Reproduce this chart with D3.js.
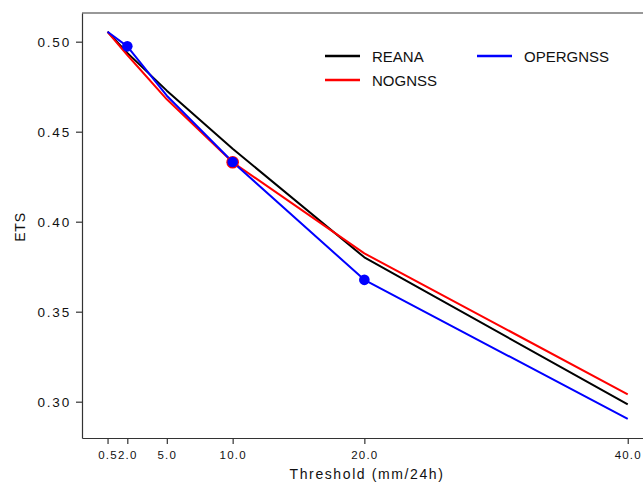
<!DOCTYPE html>
<html>
<head>
<meta charset="utf-8">
<script src="https://cdn.jsdelivr.net/npm/d3@7"></script>
<style>
  html, body { margin: 0; padding: 0; background: #fff; }
  svg { display: block; }
  text { font-family: "Liberation Sans", Arial, sans-serif; fill: #111; }
</style>
</head>
<body>
<svg id="chart" width="643" height="485"></svg>
<script>
// ---- data ----
const thresholds = [0.5, 2.0, 5.0, 10.0, 20.0, 40.0];
const tickLabels = ["0.5", "2.0", "5.0", "10.0", "20.0", "40.0"];
const yTicks = [0.30, 0.35, 0.40, 0.45, 0.50];
const reana    = [0.5055, 0.4938, 0.4728, 0.4405, 0.3802, 0.2985];
const nognss   = [0.5055, 0.4926, 0.4680, 0.4330, 0.3824, 0.3041];
const opergnss = [0.5055, 0.4974, 0.4700, 0.4332, 0.3677, 0.2904];
const reanaMarks    = [];
const nognssMarks   = [10.0];
const opergnssMarks = [2.0, 10.0, 20.0];
const seriesNames  = ["REANA", "NOGNSS", "OPERGNSS"];
const seriesColors = ["#000000", "#ff0000", "#0000ff"];

const series = [
  {name: seriesNames[0], color: seriesColors[0], values: reana,    marks: reanaMarks,    r: 5},
  {name: seriesNames[1], color: seriesColors[1], values: nognss,   marks: nognssMarks,   r: 6.3},
  {name: seriesNames[2], color: seriesColors[2], values: opergnss, marks: opergnssMarks, r: 5.3}
];

// ---- layout ----
const svg = d3.select("#chart");
const pLeft = 82, pTop = 13, pBottom = 438, pRight = 660;
const x = d3.scaleLinear().domain([-1.44, 42.45]).range([pLeft, pRight]);
const y = d3.scaleLinear().domain([0.27983, 0.51594]).range([pBottom, pTop]);

// frame (top + right spine)
svg.append("line").attr("x1", pLeft).attr("x2", pRight).attr("y1", pTop).attr("y2", pTop)
   .attr("stroke", "#333").attr("stroke-width", 1.2);
svg.append("line").attr("x1", pRight).attr("x2", pRight).attr("y1", pTop).attr("y2", pBottom)
   .attr("stroke", "#333").attr("stroke-width", 1.2);

// axes
const xAxis = d3.axisBottom(x).tickValues(thresholds)
  .tickFormat((d, i) => tickLabels[i]).tickSize(6).tickSizeOuter(0);
const gx = svg.append("g").attr("transform", `translate(0,${pBottom})`).call(xAxis);
gx.select(".domain").attr("stroke", "#333").attr("stroke-width", 1.2);
gx.selectAll(".tick line").attr("stroke", "#333").attr("stroke-width", 1.2);
gx.selectAll(".tick text").attr("font-size", 11.5).attr("letter-spacing", "1.2px")
  .attr("fill", "#111").attr("dy", "1.05em")
  .attr("font-family", "'Liberation Sans', Arial, sans-serif");

const yAxis = d3.axisLeft(y).tickValues(yTicks).tickFormat(d3.format(".2f"))
  .tickSize(6).tickSizeOuter(0);
const gy = svg.append("g").attr("transform", `translate(${pLeft},0)`).call(yAxis);
gy.select(".domain").attr("stroke", "#333").attr("stroke-width", 1.2);
gy.selectAll(".tick line").attr("stroke", "#333").attr("stroke-width", 1.2);
gy.selectAll(".tick text").attr("font-size", 13.5).attr("letter-spacing", "1.8px")
  .attr("fill", "#111").attr("x", -11)
  .attr("font-family", "'Liberation Sans', Arial, sans-serif");

// axis titles
svg.append("text").attr("x", 367).attr("y", 479).attr("text-anchor", "middle")
  .attr("font-size", 14).attr("letter-spacing", "1.6px").text("Threshold (mm/24h)");
svg.append("text").attr("transform", "translate(25,227) rotate(-90)")
  .attr("text-anchor", "middle").attr("font-size", 14).attr("letter-spacing", "0.8px").text("ETS");

// lines
const line = d3.line().x((d, i) => x(thresholds[i])).y(d => y(d));
series.forEach(s => {
  svg.append("path").datum(s.values).attr("d", line)
    .attr("fill", "none").attr("stroke", s.color).attr("stroke-width", 2)
    .attr("stroke-linejoin", "round");
});
// markers
series.forEach(s => {
  s.marks.forEach(t => {
    const i = thresholds.indexOf(t);
    svg.append("circle").attr("cx", x(t)).attr("cy", y(s.values[i]))
      .attr("r", s.r).attr("fill", s.color);
  });
});

// legend
const legendPos = [
  {lx: 325, ty: 56},
  {lx: 325, ty: 80},
  {lx: 477, ty: 56}
];
series.forEach((s, i) => {
  const p = legendPos[i];
  svg.append("line").attr("x1", p.lx).attr("x2", p.lx + 35).attr("y1", p.ty).attr("y2", p.ty)
    .attr("stroke", s.color).attr("stroke-width", 2.5);
  svg.append("text").attr("x", p.lx + 47).attr("y", p.ty + 5.5)
    .attr("font-size", 15).text(s.name);
});
</script>
</body>
</html>
